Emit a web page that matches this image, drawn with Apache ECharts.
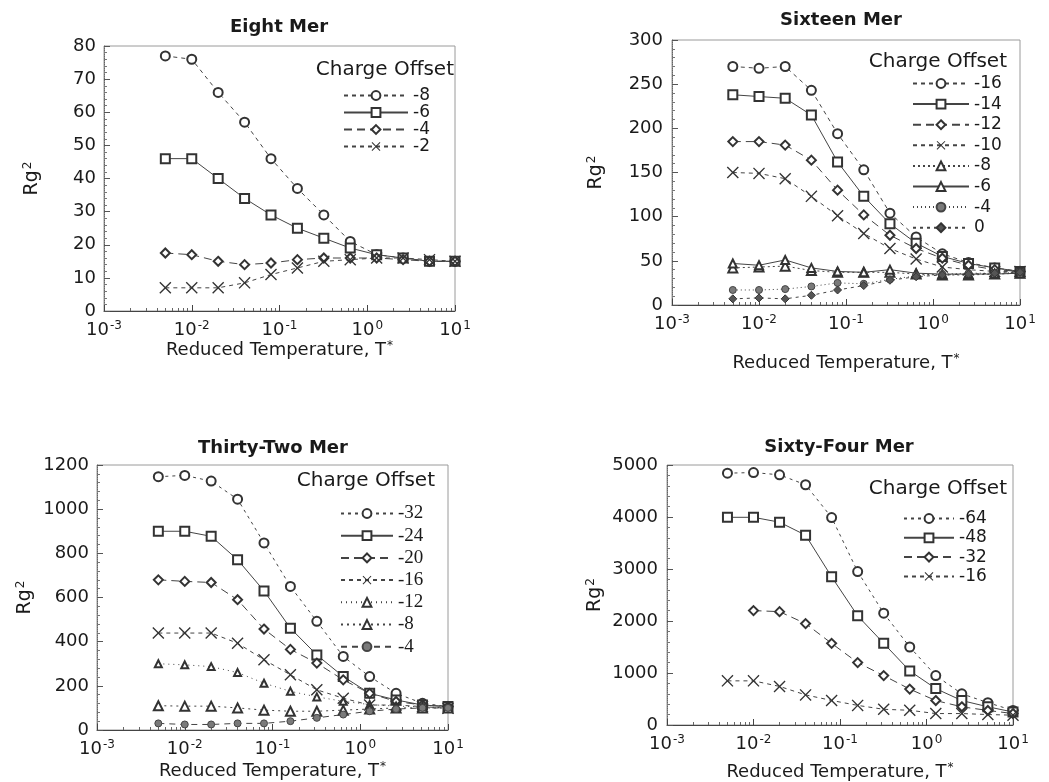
<!DOCTYPE html>
<html>
<head>
<meta charset="utf-8">
<script src="https://cdn.jsdelivr.net/npm/echarts@6/dist/echarts.min.js"></script>
<style>
html,body{margin:0;padding:0;background:#fff;}
#main{width:1049px;height:782px;}
</style>
</head>
<body>
<div id="main"></div>
<script>
// Reduced temperature values (x)
var T = [0.005, 0.01, 0.02, 0.04, 0.08, 0.16, 0.32, 0.64, 1.28, 2.56, 5.12, 10];
var xTicks = [0.001, 0.01, 0.1, 1, 10];

// Eight Mer
var eightLabels = ['-8', '-6', '-4', '-2'];
var eight_m8 = [77, 76, 66, 57, 46, 37, 29, 21, 17, 16, 15, 15];
var eight_m6 = [46, 46, 40, 34, 29, 25, 22, 19, 17, 16, 15, 15];
var eight_m4 = [17.5, 17, 15, 14, 14.5, 15.5, 16, 16, 16, 15.5, 15, 15];
var eight_m2 = [7, 7, 7, 8.5, 11, 13, 15, 15.5, 16, 16, 15.5, 15];

// Sixteen Mer
var sixteenLabels = ['-16', '-14', '-12', '-10', '-8', '-6', '-4', '0'];
var sixteen_m16 = [270, 268, 270, 243, 194, 153, 104, 77, 58, 48, 42, 38];
var sixteen_m14 = [238, 236, 234, 215, 162, 123, 92, 70, 55, 47, 42, 38];
var sixteen_m12 = [185, 185, 181, 164, 130, 102, 79, 64, 53, 45, 40, 38];
var sixteen_m10 = [150, 149, 143, 123, 101, 81, 64, 52, 43, 40, 38, 38];
var sixteen_m8 = [42, 43, 44, 39, 37, 37, 37, 35, 34, 34, 35, 36];
var sixteen_m6 = [47, 45, 51, 42, 38, 37, 40, 36, 35, 35, 35, 36];
var sixteen_m4 = [17, 17, 18, 21, 25, 24, 29, 33, 35, 36, 36, 37];
var sixteen_0 = [7, 8, 7, 11, 17, 22, 28, 32, 34, 35, 36, 37];

// Thirty-Two Mer
var thirtyTwoLabels = ['-32', '-24', '-20', '-16', '-12', '-8', '-4'];
var thirtyTwo_m32 = [1147, 1153, 1127, 1045, 847, 650, 492, 333, 242, 166, 121, 106];
var thirtyTwo_m24 = [900, 900, 877, 771, 630, 461, 340, 242, 166, 136, 113, 106];
var thirtyTwo_m20 = [680, 673, 668, 590, 457, 365, 303, 227, 166, 129, 113, 106];
var thirtyTwo_m16 = [439, 439, 439, 393, 318, 250, 182, 144, 113, 113, 106, 98];
var thirtyTwo_m12 = [300, 295, 287, 260, 212, 175, 150, 130, 115, 108, 105, 100];
var thirtyTwo_m8 = [110, 108, 108, 100, 90, 85, 85, 90, 95, 100, 100, 100];
var thirtyTwo_m4 = [30, 25, 25, 30, 30, 40, 55, 70, 85, 95, 100, 100];

// Sixty-Four Mer
var sixtyFourLabels = ['-64', '-48', '-32', '-16'];
var sixtyFour_m64 = [4843, 4855, 4811, 4620, 3990, 2950, 2150, 1500, 950, 600, 430, 280];
var sixtyFour_m48 = [3994, 3994, 3900, 3650, 2850, 2100, 1570, 1040, 700, 470, 350, 250];
var sixtyFour_m32 = [null, 2200, 2180, 1950, 1570, 1200, 950, 690, 470, 350, 280, 220];
var sixtyFour_m16 = [849, 849, 742, 579, 472, 377, 302, 283, 220, 220, 201, 189];

var FONT = '"DejaVu Sans", "Liberation Sans", sans-serif';
var INK = '#1a1a1a';
var MARK = '#333';
var XSYM = 'path://M0,0.8L0.8,0L5,4.2L9.2,0L10,0.8L5.8,5L10,9.2L9.2,10L5,5.8L0.8,10L0,9.2L4.2,5Z';

function pts(arr) {
  return T.map(function (t, i) { return [t, arr[i]]; });
}
function mk(panel, label, arr, gi, symbol, dash, opts) {
  opts = opts || {};
  return {
    type: 'line',
    name: panel + '|' + label,
    xAxisIndex: gi,
    yAxisIndex: gi,
    data: pts(arr),
    symbol: symbol,
    symbolSize: opts.size || 9,
    showSymbol: true,
    connectNulls: false,
    lineStyle: { color: opts.lineColor || '#444', width: 1, type: dash },
    itemStyle: { color: opts.fill || MARK, borderColor: opts.border || MARK, borderWidth: opts.bw == null ? 1 : opts.bw },
    emphasis: { disabled: true },
    z: 3
  };
}

var rich = {
  e: { fontSize: 12, fontFamily: FONT, color: INK, verticalAlign: 'top', padding: [0, 0, 8, 1] }
};

function xAxisOf(gi, nameGap) {
  return {
    type: 'log', logBase: 10, gridIndex: gi, min: 0.001, max: 10,
    name: 'Reduced Temperature, T{e|*}', nameLocation: 'middle', nameGap: nameGap,
    nameTextStyle: { fontSize: 18, fontFamily: FONT, color: INK, rich: rich },
    axisLine: { show: true, lineStyle: { color: '#444', width: 1 } },
    axisTick: { show: true, inside: true, length: 6, lineStyle: { color: '#444' } },
    minorTick: { show: true, splitNumber: 9, length: 3, lineStyle: { color: '#666' } },
    splitLine: { show: false },
    axisLabel: {
      margin: 9, fontSize: 18, fontFamily: FONT, color: INK, rich: rich,
      formatter: function (v) { return '10{e|' + Math.round(Math.log10(v)) + '}'; }
    }
  };
}
function yAxisOf(gi, max, interval, nameGap, margin) {
  return {
    type: 'value', gridIndex: gi, min: 0, max: max, interval: interval,
    name: 'Rg{e|2}', nameLocation: 'middle', nameGap: nameGap, nameRotate: 90,
    nameTextStyle: { fontSize: 19, fontFamily: FONT, color: INK, rich: rich },
    axisLine: { show: true, lineStyle: { color: '#666', width: 1, type: 'dotted' } },
    axisTick: { show: true, inside: true, length: 6, lineStyle: { color: '#555' } },
    minorTick: { show: true, splitNumber: 5, length: 3, lineStyle: { color: '#777' } },
    splitLine: { show: false },
    axisLabel: {
      margin: margin, fontSize: 18, fontFamily: FONT, color: INK,
      formatter: function (v) { return String(v); }
    }
  };
}
function legendOf(panel, labels, left, top, itemWidth, gap, serif) {
  return {
    orient: 'vertical', left: left, top: top, itemWidth: itemWidth, itemHeight: 11,
    itemGap: gap, padding: 0, selectedMode: false,
    data: labels.map(function (l) { return panel + '|' + l; }),
    formatter: function (n) { return n.split('|')[1]; },
    textStyle: {
      fontSize: serif ? 19 : 17, lineHeight: 16, color: INK,
      fontFamily: serif ? '"Liberation Serif", "DejaVu Serif", serif' : FONT
    }
  };
}
function txt(x, y, s, bold, align, size) {
  return {
    type: 'text', x: x, y: y, z: 10,
    style: {
      text: s, fill: INK, font: (bold ? 'bold ' : '') + (size || 18) + 'px ' + FONT,
      align: align || 'center', verticalAlign: 'middle',
      textAlign: align || 'center', textVerticalAlign: 'middle'
    }
  };
}

var gridBox = { show: true, borderColor: '#9a9a9a', borderWidth: 1, backgroundColor: 'transparent' };

var option = {
  animation: false,
  backgroundColor: '#fff',
  grid: [
    Object.assign({ left: 104, top: 46, width: 351, height: 265 }, gridBox),
    Object.assign({ left: 672, top: 40, width: 348, height: 265 }, gridBox),
    Object.assign({ left: 97, top: 465, width: 351, height: 265 }, gridBox),
    Object.assign({ left: 667, top: 465, width: 346, height: 263 }, gridBox)
  ],
  xAxis: [xAxisOf(0, 24), xAxisOf(1, 48), xAxisOf(2, 31), xAxisOf(3, 37)],
  yAxis: [
    yAxisOf(0, 80, 10, 62, 8),
    yAxisOf(1, 300, 50, 66, 9),
    yAxisOf(2, 1200, 200, 62, 8),
    yAxisOf(3, 5000, 1000, 62, 9)
  ],
  legend: [
    legendOf('A', eightLabels, 343, 87, 64, 0, false),
    legendOf('B', sixteenLabels, 912, 75, 56, 3.6, false),
    legendOf('C', thirtyTwoLabels, 340, 504, 52, 3.2, true),
    legendOf('D', sixtyFourLabels, 903, 510, 50, 2.3, false)
  ],
  graphic: [
    txt(279, 27, 'Eight Mer', true),
    txt(841, 20, 'Sixteen Mer', true),
    txt(273, 448, 'Thirty-Two Mer', true),
    txt(839, 447, 'Sixty-Four Mer', true),
    txt(454, 70, 'Charge Offset', false, 'right', 20),
    txt(1007, 62, 'Charge Offset', false, 'right', 20),
    txt(435, 481, 'Charge Offset', false, 'right', 20),
    txt(1007, 489, 'Charge Offset', false, 'right', 20)
  ],
  series: [
    mk('A', '-8', eight_m8, 0, 'emptyCircle', [4, 4]),
    mk('A', '-6', eight_m6, 0, 'emptyRect', 'solid'),
    mk('A', '-4', eight_m4, 0, 'emptyDiamond', [8, 5]),
    mk('A', '-2', eight_m2, 0, XSYM, [4, 4], { size: 12, bw: 0 }),

    mk('B', '-16', sixteen_m16, 1, 'emptyCircle', [4, 4]),
    mk('B', '-14', sixteen_m14, 1, 'emptyRect', 'solid'),
    mk('B', '-12', sixteen_m12, 1, 'emptyDiamond', [8, 5]),
    mk('B', '-10', sixteen_m10, 1, XSYM, [4, 4], { size: 12, bw: 0 }),
    mk('B', '-8', sixteen_m8, 1, 'emptyTriangle', [2, 3]),
    mk('B', '-6', sixteen_m6, 1, 'emptyTriangle', 'solid', { size: 8 }),
    mk('B', '-4', sixteen_m4, 1, 'circle', [1, 3], { fill: '#7a7a7a', border: '#444', size: 7 }),
    mk('B', '0', sixteen_0, 1, 'diamond', [3, 4], { fill: '#555', border: '#333', size: 8 }),

    mk('C', '-32', thirtyTwo_m32, 2, 'emptyCircle', [3, 4]),
    mk('C', '-24', thirtyTwo_m24, 2, 'emptyRect', 'solid'),
    mk('C', '-20', thirtyTwo_m20, 2, 'emptyDiamond', [8, 5]),
    mk('C', '-16', thirtyTwo_m16, 2, XSYM, [4, 4], { size: 12, bw: 0 }),
    mk('C', '-12', thirtyTwo_m12, 2, 'emptyTriangle', [1, 4], { size: 7 }),
    mk('C', '-8', thirtyTwo_m8, 2, 'emptyTriangle', [2, 4]),
    mk('C', '-4', thirtyTwo_m4, 2, 'circle', [6, 5], { fill: '#7a7a7a', border: '#444', size: 7 }),

    mk('D', '-64', sixtyFour_m64, 3, 'emptyCircle', [3, 4]),
    mk('D', '-48', sixtyFour_m48, 3, 'emptyRect', 'solid'),
    mk('D', '-32', sixtyFour_m32, 3, 'emptyDiamond', [8, 5]),
    mk('D', '-16', sixtyFour_m16, 3, XSYM, [4, 4], { size: 12, bw: 0 })
  ]
};

var chart = echarts.init(document.getElementById('main'), null, { renderer: 'canvas' });
chart.setOption(option);
</script>
</body>
</html>
